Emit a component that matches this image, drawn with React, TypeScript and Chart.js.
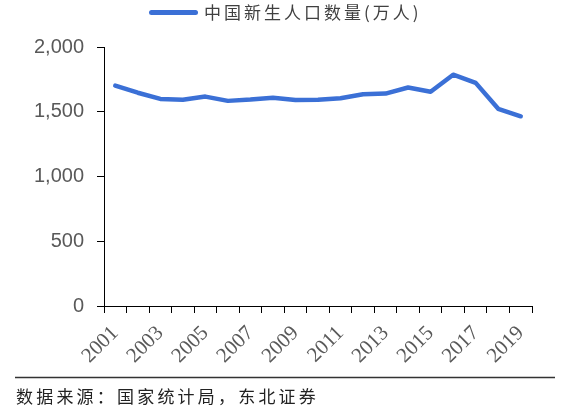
import React, { useEffect, useRef } from "react";
import { Chart, registerables } from "chart.js";

Chart.register(...registerables);

const YEARS = ["2001","2002","2003","2004","2005","2006","2007","2008","2009","2010","2011","2012","2013","2014","2015","2016","2017","2018","2019"];
const BIRTHS = [1702,1647,1599,1593,1617,1584,1594,1608,1591,1592,1604,1635,1640,1687,1655,1786,1723,1523,1465];
const Y_TICKS = [0, 500, 1000, 1500, 2000];
const SERIES_NAME = "中国新生人口数量(万人)";
const SOURCE_TEXT = "数据来源：国家统计局，东北证券";

const LINE_COLOR = "#3B70D6";

const overlay = {
  id: "overlay",
  afterDraw(chart: any) {
    const ctx = chart.ctx as CanvasRenderingContext2D;
    ctx.save();
    // legend
    ctx.strokeStyle = LINE_COLOR;
    ctx.lineWidth = 5;
    ctx.lineCap = "round";
    ctx.beginPath();
    ctx.moveTo(151.5, 12.5);
    ctx.lineTo(195.5, 12.5);
    ctx.stroke();
    ctx.font = '17px "Noto Sans CJK SC"';
    (ctx as any).letterSpacing = "3px";
    ctx.fillStyle = "#404040";
    ctx.textBaseline = "middle";
    ctx.textAlign = "left";
    ctx.fillText(SERIES_NAME, 204, 13);
    // source separator
    ctx.strokeStyle = "#333333";
    ctx.lineWidth = 1.5;
    ctx.lineCap = "butt";
    ctx.beginPath();
    ctx.moveTo(15, 377.5);
    ctx.lineTo(555, 377.5);
    ctx.stroke();
    ctx.fillStyle = "#222222";
    (ctx as any).letterSpacing = "3.2px";
    ctx.fillText(SOURCE_TEXT, 16, 397);
    ctx.restore();
  },
};

export default function App() {
  const ref = useRef<HTMLCanvasElement | null>(null);
  useEffect(() => {
    document.body.style.margin = "0";
    if (!ref.current) return;
    const chart = new Chart(ref.current, {
      type: "line",
      data: {
        labels: YEARS,
        datasets: [
          {
            label: SERIES_NAME,
            data: BIRTHS,
            borderColor: LINE_COLOR,
            backgroundColor: LINE_COLOR,
            borderWidth: 4.5,
            pointRadius: 0,
            tension: 0,
            borderCapStyle: "round",
            borderJoinStyle: "round",
          },
        ],
      },
      options: {
        responsive: false,
        animation: false,
        devicePixelRatio: 1,
        layout: { padding: { top: 47, right: 37, bottom: 35, left: 0 } },
        plugins: {
          legend: { display: false },
          tooltip: { enabled: false },
        },
        scales: {
          x: {
            type: "category",
            offset: true,
            grid: {
              offset: true,
              drawOnChartArea: false,
              drawTicks: true,
              tickLength: 7,
              color: "#000000",
            },
            border: { display: true, color: "#000000", width: 1 },
            ticks: {
              autoSkip: false,
              maxRotation: 45,
              minRotation: 45,
              padding: 8,
              color: "#595959",
              font: { family: '"Liberation Serif", serif', size: 21 },
              callback: (_v: any, i: number) => (i % 2 === 0 ? YEARS[i] : ""),
            },
            afterFit: (s: any) => {
              s.height = 68;
            },
          },
          y: {
            min: 0,
            max: 2000,
            afterBuildTicks: (s: any) => {
              s.ticks = Y_TICKS.map((v) => ({ value: v }));
            },
            grid: {
              drawOnChartArea: false,
              drawTicks: true,
              tickLength: 7,
              color: "#000000",
            },
            border: { display: true, color: "#000000", width: 1 },
            ticks: {
              padding: 13,
              color: "#595959",
              font: { family: '"Liberation Sans", Arial, sans-serif', size: 20 },
              callback: (v: any) => Number(v).toLocaleString("en-US"),
            },
            afterFit: (s: any) => {
              s.width = 104;
            },
          },
        },
      },
      plugins: [overlay],
    });
    return () => chart.destroy();
  }, []);
  return (
    <div style={{ width: 569, height: 409, background: "#ffffff" }}>
      <canvas ref={ref} width={569} height={409} style={{ width: 569, height: 409, display: "block" }} />
    </div>
  );
}
